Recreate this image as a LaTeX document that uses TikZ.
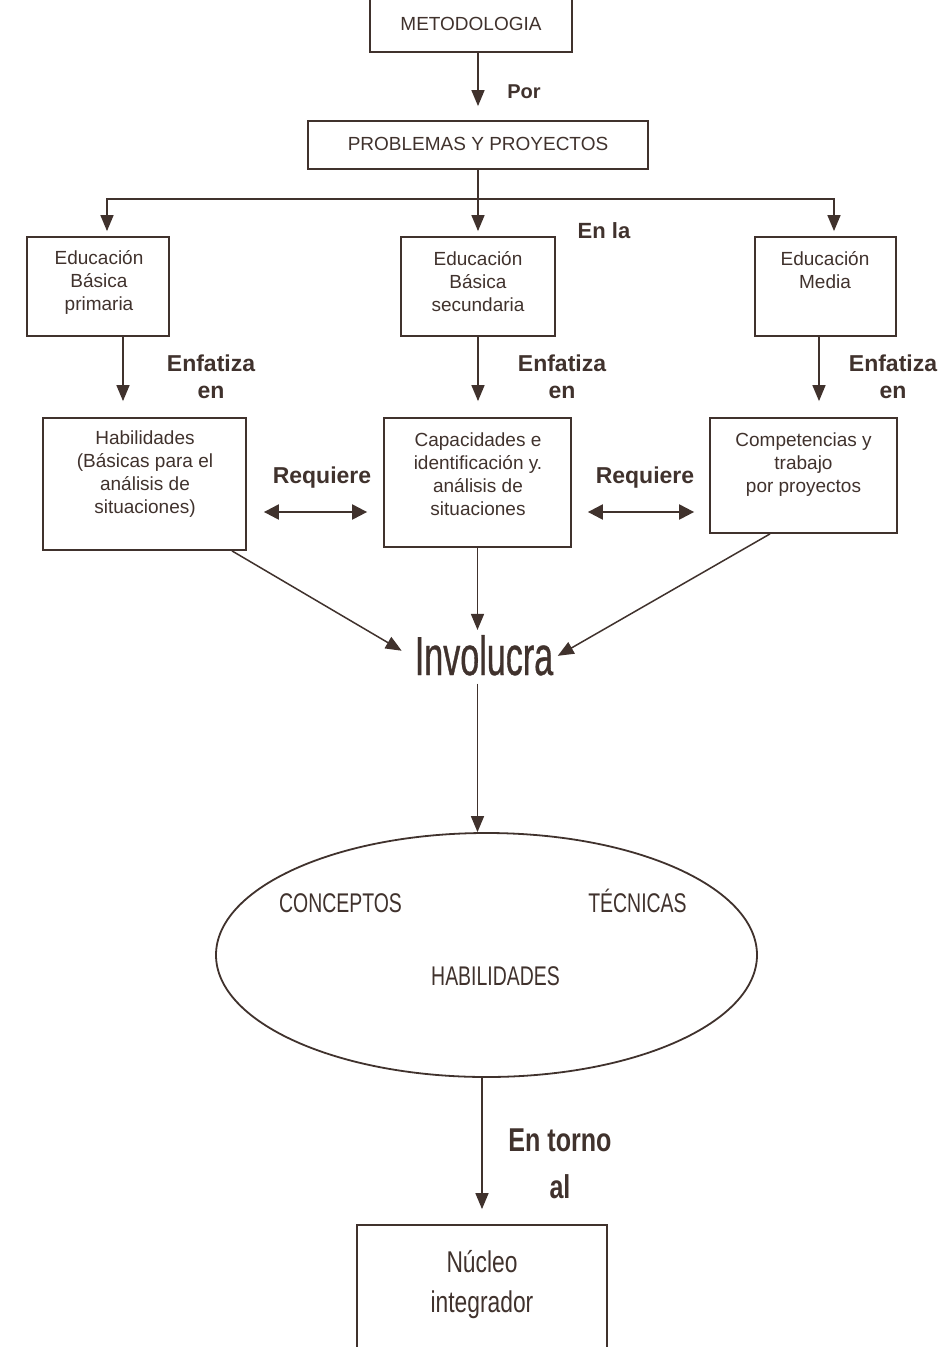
\documentclass[tikz,border=0pt]{standalone}
\usepackage{fontspec}
\setmainfont{Liberation Sans}
\newfontfamily\condfont[FakeStretch=0.72]{Liberation Sans}
\newfontfamily\invfont[FakeStretch=0.62,FakeBold=0.6]{Liberation Sans}
\newfontfamily\nucfont[FakeStretch=0.76]{Liberation Sans}
\usetikzlibrary{arrows.meta,shapes.geometric}
\definecolor{ink}{RGB}{64,50,45}
\begin{document}
\begin{tikzpicture}[x=1pt,y=-1pt,
  every node/.style={text=ink},
  cbox/.style={draw=ink, line width=1.8pt, inner sep=0pt},
  boxtext/.style={align=center, inner sep=0pt, font=\fontsize{19}{23}\selectfont},
  lbl/.style={align=center, inner sep=0pt, font=\fontsize{23}{27}\selectfont\bfseries},
  ctext/.style={inner sep=0pt, anchor=base, font=\fontsize{27}{30}\condfont},
  bigbold/.style={inner sep=0pt, anchor=base, font=\fontsize{33}{40}\nucfont\bfseries},
  nuctext/.style={inner sep=0pt, anchor=base, font=\fontsize{30}{40}\nucfont},
  conn/.style={draw=ink, line width=1.5pt},
  arr/.style={conn, -{Triangle[length=16pt,width=13pt]}},
  biarr/.style={conn, line width=2.2pt, {Triangle[length=15pt,width=15pt]}-{Triangle[length=15pt,width=15pt]}},
]
\useasboundingbox (0,0) rectangle (941,1347);
\fill[white] (0,0) rectangle (941,1347);
\clip (0,0) rectangle (941,1347);

% ---- boxes ----
\node[cbox, minimum width=202pt, minimum height=82pt] (meto) at (471,11) {};
\node[cbox, minimum width=340pt, minimum height=48pt] (prob) at (478,145) {};
\node[cbox, minimum width=142pt, minimum height=99pt] (prim) at (98,286.5) {};
\node[cbox, minimum width=154pt, minimum height=99pt] (secu) at (478,286.5) {};
\node[cbox, minimum width=141pt, minimum height=99pt] (media) at (825.5,286.5) {};
\node[cbox, minimum width=203pt, minimum height=132pt] (hab) at (144.5,484) {};
\node[cbox, minimum width=187pt, minimum height=129pt] (cap) at (477.5,482.5) {};
\node[cbox, minimum width=187pt, minimum height=115pt] (comp) at (803.5,475.5) {};
\node[draw=ink, line width=1.8pt, ellipse, inner sep=0pt,
      minimum width=541pt, minimum height=244pt] (ell) at (486.5,955) {};
\node[cbox, minimum width=250pt, minimum height=155pt] (nuc) at (482,1302.5) {};

% ---- box texts ----
\node[boxtext, anchor=base] (metot) at (471,30) {METODOLOGIA};
\node[boxtext, anchor=base] (probt) at (478,150) {PROBLEMAS Y PROYECTOS};
\node[boxtext] (primt) at (99,282) {Educación\\Básica\\primaria};
\node[boxtext] (secut) at (478,282) {Educación\\Básica\\secundaria};
\node[boxtext] (mediat) at (825,270.5) {Educación\\Media};
\node[boxtext] (habt) at (145,474.5) {Habilidades\\(Básicas para el\\análisis de\\situaciones)};
\node[boxtext] (capt) at (478,474.5) {Capacidades e\\identificación y.\\análisis de\\situaciones};
\node[boxtext] (compt) at (803.5,465) {Competencias y\\trabajo\\por proyectos};
\node[ctext] (conc) at (340.5,912) {CONCEPTOS};
\node[ctext] (tecn) at (637.5,912) {TÉCNICAS};
\node[ctext] (habi) at (495.5,985) {HABILIDADES};
\node[nuctext] (nuct1) at (482,1272) {Núcleo};
\node[nuctext] (nuct2) at (482,1312) {integrador};

% ---- connector labels ----
\node[lbl, anchor=base, font=\fontsize{20}{24}\selectfont\bfseries] (por) at (524,98) {Por};
\node[lbl, anchor=base, font=\fontsize{22}{26}\selectfont\bfseries] (enla) at (604,238) {En la};
\node[lbl] (enf1) at (211,377) {Enfatiza\\en};
\node[lbl] (enf2) at (562,377) {Enfatiza\\en};
\node[lbl] (enf3) at (893,377) {Enfatiza\\en};
\node[lbl, anchor=base] (req1) at (322,483) {Requiere};
\node[lbl, anchor=base] (req2) at (645,483) {Requiere};
\node[inner sep=0pt, anchor=base, font=\fontsize{55}{60}\invfont] (inv) at (484,675) {Involucra};
\node[bigbold] (torno) at (560,1151) {En torno};
\node[bigbold] (al) at (560,1198) {al};

% ---- connectors ----
\draw[arr, shorten >=14pt] (meto.south -| prob.north) -- (prob.north);
\coordinate (split) at (478,199);
\coordinate (hl) at (107,199);
\coordinate (hr) at (834,199);
\draw[arr, shorten >=5pt] (split) -- (hl) -- (hl |- prim.north);
\draw[arr, shorten >=5pt] (split) -- (hr) -- (hr |- media.north);
\draw[arr, shorten >=5pt] (prob.south) -- (secu.north);

\draw[arr, shorten >=16pt] ([xshift=25pt]prim.south) -- ([xshift=25pt]prim.south |- hab.north);
\draw[arr, shorten >=16pt] (secu.south) -- (secu.south |- cap.north);
\draw[arr, shorten >=16pt] ([xshift=-6.5pt]media.south) -- ([xshift=-6.5pt]media.south |- comp.north);

\draw[biarr, shorten <=17pt, shorten >=16pt] ([yshift=-28pt]hab.east) -- ([yshift=-28pt]hab.east -| cap.west);
\draw[biarr, shorten <=16pt, shorten >=15pt] ([yshift=-28pt]hab.east -| cap.east) -- ([yshift=-28pt]hab.east -| comp.west);

\draw[arr, shorten >=15pt] ([xshift=87.5pt]hab.south) -- ([yshift=-3pt]inv.west);
\draw[arr, shorten >=5pt] ([xshift=-33.5pt]comp.south) -- ([yshift=-3pt]inv.east);
\draw[arr, shorten >=5pt] (cap.south) -- (cap.south |- inv.north);
\draw[arr, shorten <=8pt] (cap.south |- inv.south) -- (cap.south |- ell.north);
\draw[arr, shorten >=15pt] (ell.south -| nuc.north) -- (nuc.north);
\end{tikzpicture}
\end{document}
